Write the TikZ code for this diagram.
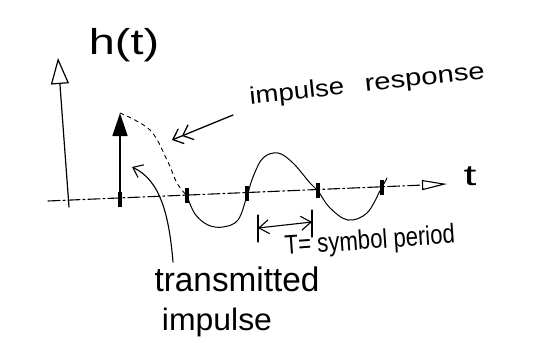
\documentclass[tikz,border=0pt]{standalone}
\usepackage{fontspec}
\setmainfont{Liberation Sans}
\usetikzlibrary{arrows.meta}
\newcommand{\hw}[2]{\fontsize{#1}{#1}\selectfont\addfontfeature{FakeStretch=#2}}
\tikzset{
  ink/.style={line width=1.1pt, black, line cap=round, line join=round},
  lbl/.style={inner sep=0pt, anchor=center},
  tickmark/.style={line width=3.2pt, black},
}
\begin{document}
\begin{tikzpicture}[x=1pt,y=-1pt]
\useasboundingbox (0,0) rectangle (536,343);
% named points
\coordinate (vbot) at (69,207);
\coordinate (vtop) at (58,58);
\coordinate (hleft) at (48,201);
\coordinate (hright) at (447,184);
\coordinate (ibot) at (120,205);
\coordinate (itop) at (120,113);
% labels
\node[lbl, font=\hw{36}{1.3}] (ht) at (124,45) {h(t)};
\node[lbl, rotate=6, font=\hw{24}{1.15}] (ir1) at (297,93) {impulse};
\node[lbl, rotate=6, font=\hw{24}{1.22}] (ir2) at (425,81) {response};
\node[lbl, rotate=4, font=\hw{27}{0.82}] (sp) at (370,242) {T= symbol period};
\node[lbl, font=\hw{34}{0.98}] (tr) at (237,279) {transmitted};
\node[lbl, font=\hw{31}{1.03}] (im) at (217,322) {impulse};
\node[lbl, font=\hw{29}{1.6}] (tl) at (470,176) {t};
% axes
\draw[ink, line width=1.2pt, -{Triangle[open, length=26pt, width=18pt]}] (vbot) -- (vtop);
\draw[ink, line width=1.1pt, dash pattern=on 12pt off 3pt on 2pt off 3pt,
      -{Triangle[open, length=25pt, width=10pt]}] (hleft) -- (hright);
% transmitted impulse
\draw[ink, line width=1.4pt, -{Triangle[length=23pt, width=15pt]}] (ibot) -- (itop);
% impulse response curve
\draw[ink, line width=0.9pt, dash pattern=on 4pt off 4pt]
  plot[smooth, tension=0.6] coordinates {(120,113) (150,130) (167,160) (177,183) (187,196)};
\draw[ink, line width=1pt]
  plot[smooth, tension=0.6] coordinates {(187,196) (195,214) (208,225) (223,227) (238,220) (247,196)
    (253,177) (263,158) (278,153) (293,163) (310,183) (318,191) (330,208) (348,220) (367,213) (381,189) (387,178)};
% sample marks
\coordinate (m0) at (120,199);
\coordinate (m1) at (187,195);
\coordinate (m2) at (247,193);
\coordinate (m3) at (318,190);
\coordinate (m4) at (382,187);
\foreach \m in {m0,m1,m2,m3,m4}
  \draw[tickmark] ([yshift=-8pt]\m) -- ([yshift=7pt]\m);
% pointer to impulse response
\coordinate (irtail) at (233,115);
\coordinate (irtip) at (172,140);
\draw[ink, line width=1.3pt, -{Straight Barb[length=9pt, width=16pt] Straight Barb[length=9pt, width=16pt]}] (irtail) -- (irtip);
% pointer to transmitted impulse
\coordinate (titail) at (173,262);
\coordinate (titip) at (132,167);
\draw[ink, -{Straight Barb[length=9pt, width=14pt]}] (titail) .. controls (169,214) and (160,180) .. (titip);
% symbol period dimension
\coordinate (d1a) at (258,215);
\coordinate (d1b) at (258,242);
\coordinate (d2a) at (312,210);
\coordinate (d2b) at (312,237);
\draw[ink] (d1a) -- (d1b);
\draw[ink] (d2a) -- (d2b);
\coordinate (da) at (258,228);
\coordinate (db) at (312,222);
\draw[ink, {Straight Barb[length=10pt, width=14pt]}-{Straight Barb[length=10pt, width=14pt]}] (da) -- (db);
\end{tikzpicture}
\end{document}
